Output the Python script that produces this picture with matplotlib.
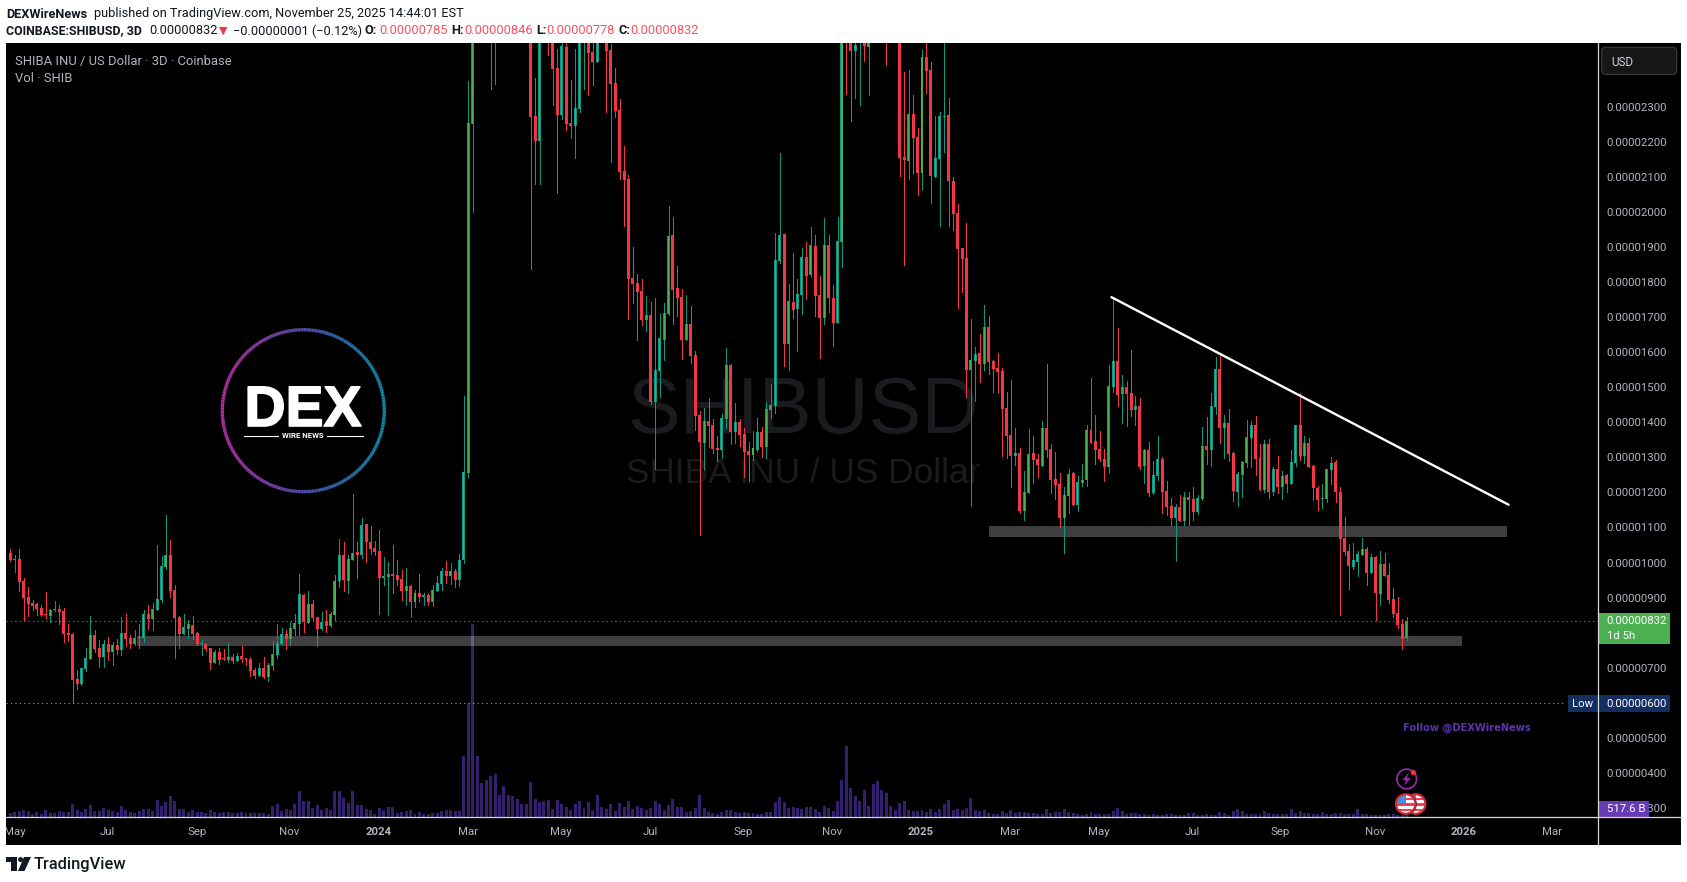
import numpy as np
import matplotlib
matplotlib.use('Agg')
import matplotlib.pyplot as plt
import matplotlib.patheffects as pe
from matplotlib.patches import Circle, Rectangle, FancyBboxPatch, Polygon
from matplotlib.collections import LineCollection
from matplotlib.transforms import Bbox, TransformedBbox

# prices are in units of 0.00000001 USD, candles above the pane top are estimates
highs = [
    1038,1021,1040,955,929,893,884,879,916,867,890,878,869,825,798,693,699,757,847,807,
    779,779,788,773,782,844,853,793,807,825,864,879,884,1050,1019,1136,1064,935,847,853,
    836,847,802,779,770,756,750,756,753,770,739,742,762,727,730,699,713,730,713,775,
    825,813,807,830,853,967,910,919,893,844,859,864,859,964,1067,1059,1021,1195,1059,1127,
    1110,1104,1061,1093,1016,1001,1050,1007,979,984,936,922,967,913,913,936,961,984,1004,999,981,1024,
    1474,2373,3500,4000,4560,4500,3900,3500,3500,3700,3700,3500,3500,3500,3100,2900,2383,2900,2800,2700,2600,
    2464,2520,2520,2376,2464,2600,2700,2700,2500,2600,2600,2560,2479,2410,2322,2188,2105,1899,1822,1808,
    1760,1743,1754,1708,1740,2016,1985,1845,1780,1762,1731,1603,1432,1440,1469,1409,1360,1423,1611,1566,
    1454,1409,1383,1343,1374,1412,1386,1457,1509,1939,2168,1937,1794,1882,1808,1897,1914,1956,1934,1817,
    1982,1934,1791,1985,3000,3000,2700,2520,2650,2650,2600,2800,2800,2800,2750,2680,2720,2700,2399,2404,
    2333,2239,2461,2490,2427,2273,2285,2490,2325,2099,2022,1897,1968,1694,1614,1651,1734,1703,1577,1597,
    1554,1486,1520,1383,1326,1260,1380,1360,1309,1403,1566,1337,1315,
    1255,1215,1267,1258,1247,1281,1392,1526,1421,1375,1324,1564,1758,1669,1535,1518,1606,1475,1469,1324,
    1344,1290,1361,1301,1233,1184,1167,1193,1201,1201,1215,1193,1387,1415,1484,1586,1598,1421,1438,1315,
    1258,1290,1407,1404,1418,1338,1350,1352,1273,1304,1261,1253,1321,1392,1484,1361,1355,1278,1218,1224,
    1267,1301,1293,1215,1130,1053,1056,1033,1070,1044,1024,1019,1033,1027,999,927,902,839,846,
]
lows = [
    1004,973,919,836,847,864,851,848,842,831,862,825,773,776,598,639,651,690,725,745,
    702,702,722,708,739,736,762,756,765,756,773,810,807,864,887,981,902,727,756,796,
    785,782,765,736,747,696,713,710,722,716,713,719,716,708,676,670,676,670,662,693,
    727,767,753,765,793,793,802,827,836,762,807,802,816,836,930,919,913,1007,956,1013,
    1001,1024,1021,853,936,850,913,936,893,879,844,873,890,879,879,876,919,922,942,939,930,933,
    1000,1244,2000,3000,3500,3400,2351,2366,2900,2900,3100,2900,2900,2800,2600,1838,2079,2079,2500,2447,2305,
    2054,2264,2233,2210,2153,2285,2350,2333,2362,2427,2485,2285,2142,2270,2093,1959,1694,1740,1634,1677,
    1660,1452,1266,1471,1577,1705,1680,1703,1580,1634,1568,1377,1078,1263,1329,1312,1289,1297,1383,1337,
    1340,1332,1243,1232,1292,1317,1300,1297,1412,1426,1854,1560,1549,1697,1603,1708,1751,1814,1703,1583,
    1680,1714,1617,1683,1842,2336,2259,2325,2305,2430,2333,2490,2550,2560,2419,2500,2500,2102,1848,2093,
    2111,2048,2065,2339,2025,2099,1959,2170,1959,1948,1725,1771,1471,1161,1460,1514,1549,1537,1486,1483,
    1303,1297,1215,1277,1141,1121,1198,1226,1243,1275,1300,1198,1180,
    1101,1027,1141,1164,1147,1218,1218,1341,1281,1290,1233,1255,1487,1447,1398,1389,1418,1392,1267,1227,
    1190,1195,1235,1141,1136,1107,1004,1118,1107,1107,1121,1138,1178,1281,1275,1424,1341,1298,1290,1176,
    1161,1187,1273,1273,1250,1207,1201,1184,1193,1198,1181,1201,1224,1275,1293,1284,1273,1178,1150,1156,
    1173,1224,1173,850,1021,924,982,962,1021,936,970,836,879,962,885,845,813,753,778,
]
opens = [
    1027,1008,1010,947,902,884,882,870,853,847,865,867,862,799,796,668,653,695,725,793,
    756,730,767,745,765,750,799,785,767,787,785,853,839,864,893,987,1021,922,844,796,
    810,822,799,768,767,756,713,745,727,722,730,719,733,727,725,693,676,699,673,705,
    736,767,796,782,810,825,907,827,882,844,810,833,819,850,947,1021,947,1007,1030,1021,
    1110,1059,1041,1033,956,959,967,964,953,919,933,887,913,902,907,887,919,939,976,961,976,950,
    1007,1256,2251,3300,3700,4300,3700,3000,3300,3100,3500,3300,3100,3300,3000,2800,2273,2203,2700,2600,2520,
    2410,2276,2470,2253,2245,2293,2520,2600,2456,2427,2520,2500,2461,2367,2290,2116,2093,1811,1797,1774,
    1691,1705,1457,1546,1634,1708,1934,1782,1757,1634,1680,1591,1420,1340,1403,1392,1326,1320,1409,1563,
    1372,1400,1366,1317,1306,1320,1372,1329,1434,1446,1859,1937,1623,1743,1723,1762,1871,1820,1902,1762,
    1697,1905,1754,1683,1914,2900,2600,2459,2500,2540,2470,2520,2700,2620,2700,2600,2560,2640,2156,2145,
    2279,2213,2111,2441,2404,2099,2150,2270,2276,2088,1996,1897,1868,1549,1574,1597,1566,1671,1574,1554,
    1546,1440,1363,1303,1312,1146,1198,1312,1295,1275,1383,1323,1238,
    1224,1127,1190,1255,1164,1227,1235,1378,1347,1324,1295,1273,1501,1575,1481,1501,1484,1435,1447,1275,
    1321,1198,1247,1295,1204,1161,1127,1158,1118,1187,1181,1144,1181,1332,1321,1444,1552,1384,1398,1312,
    1201,1250,1284,1355,1392,1298,1207,1338,1201,1267,1215,1250,1224,1284,1392,1304,1341,1275,1213,1181,
    1181,1264,1287,1201,1070,1033,987,1001,1021,1039,970,1016,910,996,964,896,856,825,785,
]
closes = [
    1006,1010,945,900,882,876,867,850,851,864,867,859,796,793,665,653,699,727,793,753,
    730,767,745,765,750,799,782,767,785,785,853,839,867,896,990,1021,919,842,796,816,
    825,796,767,770,753,713,745,722,725,730,719,733,725,722,690,676,699,673,708,739,
    770,796,782,813,827,910,830,882,842,810,830,819,853,947,1021,950,1010,1027,1021,1107,
    1059,1038,1030,956,961,967,961,950,919,933,887,913,902,907,887,922,942,976,961,976,950,1007,
    1257,2253,3300,3700,4300,3700,3000,3300,3100,3500,3300,3100,3300,3000,2800,2270,2203,2700,2600,2520,2407,
    2276,2473,2250,2245,2296,2520,2600,2453,2427,2520,2500,2459,2364,2287,2113,2091,1808,1794,1771,1691,
    1705,1459,1549,1640,1711,1931,1777,1754,1634,1680,1588,1417,1343,1403,1389,1323,1320,1412,1563,1372,
    1400,1363,1315,1306,1326,1372,1329,1437,1449,1862,1934,1623,1745,1720,1765,1871,1817,1905,1760,1697,
    1905,1754,1683,1917,2900,2600,2459,2476,2560,2473,2520,2700,2620,2700,2600,2560,2640,2153,2148,2279,
    2210,2111,2441,2402,2102,2153,2273,2273,2088,1994,1894,1865,1549,1577,1594,1566,1671,1571,1551,1543,
    1437,1360,1303,1312,1146,1200,1309,1292,1277,1383,1320,1235,1220,
    1127,1193,1253,1164,1230,1235,1378,1341,1321,1295,1273,1504,1575,1478,1501,1481,1435,1447,1273,1321,
    1198,1250,1295,1201,1158,1127,1158,1118,1187,1178,1144,1184,1332,1321,1447,1552,1384,1398,1310,1204,
    1253,1287,1358,1392,1295,1207,1338,1201,1267,1215,1247,1224,1287,1392,1304,1341,1273,1213,1178,1184,
    1267,1284,1201,1067,1030,990,1007,1024,1039,970,1016,913,996,962,893,853,822,782,832,
]
# volume in billions of SHIB
volumes = [
    690,920,1035,1150,1035,460,805,460,1150,690,690,1035,805,805,2300,1265,805,1380,2070,1035,
    1035,1495,1265,1035,805,1955,1150,805,690,1035,1380,1380,1035,2990,1955,2645,3680,2760,1380,1380,
    805,1150,920,920,690,1150,920,690,920,920,690,690,920,690,690,690,690,690,575,1955,
    2300,1035,1380,1265,2300,4485,2760,2760,1610,2070,1150,1495,1150,4485,4485,3220,2415,4485,2070,2070,
    1380,1265,575,1610,1265,1725,1725,690,805,1035,1150,575,805,575,460,690,690,1035,1150,1265,
    1035,1035,10580,19665,33290,10580,5865,6325,7130,7475,3795,5405,3795,3565,3105,2300,2300,6095,3105,2645,
    2760,2875,1380,2875,2300,1725,1265,2300,2760,1610,2645,1150,3795,1725,1380,2300,1035,2415,1725,2760,
    1380,1840,1610,1150,1610,2760,2300,1150,2070,3105,1725,1725,805,1035,1553,3795,1553,863,690,518,
    863,1208,1208,863,690,863,690,690,518,518,863,863,2588,3450,2588,1553,1725,1553,1380,1725,
    1725,1380,863,1898,1553,1035,2760,6383,12248,5003,3623,2760,4658,1898,5693,6210,4658,4140,1898,1208,
    2415,2760,1208,1035,1035,1208,863,1380,863,1380,2243,2933,1208,1380,1208,1553,3278,1208,1035,1208,
    690,518,518,1035,690,1208,690,863,863,690,690,518,518,1380,690,863,863,1380,863,690,
    518,345,518,863,518,518,518,518,1035,1553,1035,518,690,690,518,518,345,518,345,345,
    518,518,345,345,345,690,690,345,345,518,345,345,863,690,345,1035,1380,1035,518,518,
    518,518,1035,690,518,518,518,518,1380,690,1035,690,690,518,518,863,518,518,690,690,
    518,518,518,1380,518,518,345,345,345,345,518,518,345,345,518,
]
date_ticks = [1.0, 21.9, 42.0, 62.8, 82.8, 103.0, 123.7, 143.8, 164.8, 184.8, 204.8, 224.8, 244.7, 265.7, 285.5, 306.9, 326.7, 346.7]
date_labels = ['May', 'Jul', 'Sep', 'Nov', '2024', 'Mar', 'May', 'Jul', 'Sep', 'Nov', '2025', 'Mar', 'May', 'Jul', 'Sep', 'Nov', '2026', 'Mar']
# 600 and 800 sit behind the Low and last price labels
price_ticks = [300, 400, 500, 700, 900, 1000, 1100, 1200, 1300, 1400, 1500, 1600, 1700, 1800, 1900, 2000, 2100, 2200, 2300]
last_price = 832
low_price = 600
# trend line and the two zones, candle index and price
trend_x = [247.6, 336.9]
trend_y = [1757, 1165]
zone_x = [[220.0, 336.6], [28.4, 326.4]]
zone_y = [[1073, 1104], [762, 790]]

W, H = 1687, 882
UP, UP_IN, DOWN = '#089981', '#4caf50', '#f23645'
TXT = '#b2b5be'
plt.rcParams['font.family'] = ['Roboto', 'DejaVu Sans']


def frect(x0, y0, x1, y1):
    # pixel box (y down) to figure fractions
    return [x0 / W, 1 - y1 / H, (x1 - x0) / W, (y1 - y0) / H]


fig = plt.figure(figsize=(W / 100, H / 100), dpi=100, facecolor='white')
bg = fig.add_axes(frect(6, 43, 1681, 845), zorder=0, facecolor='black')
bg.set_axis_off()
bg.add_patch(Rectangle((0, 0), 1, 1, transform=bg.transAxes, color='black'))

pane = frect(6, 43, 1598, 817)
ax_vol = fig.add_axes(pane, zorder=1)
ax_vol.patch.set_alpha(0)
ax_vol.set_axis_off()
ax = fig.add_axes(pane, zorder=2)
ax.patch.set_alpha(0)

idx = np.arange(len(closes))
o, h, l, c = np.array(opens), np.array(highs), np.array(lows), np.array(closes)
up = c >= o
xlim = (-0.967, 357.0)
ax.set_xlim(xlim)
ax.set_ylim(274.2, 2482)
ax_vol.set_xlim(xlim)
ax_vol.set_ylim(0, 774 * 172.5)

# watermark sits below everything
ax_vol.text(803 / W, 1 - 433 / H, 'SHIBUSD', transform=fig.transFigure, ha='center', va='baseline',
            fontsize=57, color='#1a1b1f', family='Liberation Sans')
ax_vol.text(803 / W, 1 - 483 / H, 'SHIBA INU / US Dollar', transform=fig.transFigure, ha='center', va='baseline',
            fontsize=25.4, color='#1a1b1f', family='Liberation Sans')
ax_vol.bar(idx, volumes, width=0.67, color='#35206f', linewidth=0)

for zx, zy in zip(zone_x, zone_y):
    ax.add_patch(Rectangle((zx[0], zy[0]), zx[1] - zx[0], zy[1] - zy[0], facecolor='white',
                           alpha=0.25, linewidth=0, zorder=1))

ax.hlines(last_price, xlim[0], xlim[1], colors=UP_IN, linestyles=(0, (1, 3)), linewidth=0.8, zorder=1.5)
ax.hlines(low_price, xlim[0], 349.6, colors='#a0a0a0', linestyles=(0, (1, 3)), linewidth=0.8, zorder=1.5)

wicks = ax.vlines(idx, l, h, colors=[UP if u else DOWN for u in up], linewidth=0.72, zorder=2)
wicks.set_snap(True)
wicks.set_antialiased(False)
bottoms = np.minimum(o, c)
heights = np.maximum(np.abs(c - o), 3)
ax.bar(idx[~up], heights[~up], bottom=bottoms[~up], width=0.67, color=DOWN, linewidth=0, zorder=3)
ax.bar(idx[up], heights[up], bottom=bottoms[up], width=0.67, color=UP, linewidth=0, zorder=3)
ax.bar(idx[up], heights[up], bottom=bottoms[up], width=0.25, color=UP_IN, linewidth=0, zorder=3.1)

ax.plot(trend_x, trend_y, color='white', linewidth=1.7, zorder=4, solid_capstyle='round')

# axes
ax.yaxis.tick_right()
ax.set_yticks(price_ticks, [f'{t / 1e8:.8f}' for t in price_ticks])
ax.set_xticks(date_ticks, date_labels)
ax.tick_params(axis='y', length=0, pad=6, labelsize=8.2, labelcolor=TXT)
ax.tick_params(axis='x', length=0, pad=7, labelsize=8.2, labelcolor=TXT)
for s in ax.spines.values():
    s.set_visible(False)
clip = TransformedBbox(Bbox([[6 / W, 0], [1, 1]]), fig.transFigure)
for lab in ax.get_xticklabels():
    lab.set_clip_box(clip)
    lab.set_clip_on(True)
    if lab.get_text().isdigit():
        lab.set_fontweight('bold')

# everything else is drawn in pixel coordinates on a full size overlay
ov = fig.add_axes([0, 0, 1, 1], zorder=5)
ov.set_xlim(0, W)
ov.set_ylim(H, 0)
ov.set_axis_off()
ov.patch.set_alpha(0)

ov.plot([1598, 1598], [43, 845], color='#d8d8d8', linewidth=0.9)
ov.plot([6, 1681], [817, 817], color='#d8d8d8', linewidth=0.9)


def label(x, y, s, color='black', size=9.2, weight='normal', ha='left', **kw):
    return ov.text(x, y, s, color=color, fontsize=size, fontweight=weight, ha=ha, va='center', **kw)


# header
label(6.4, 14, 'DEXWireNews', '#131722', weight='bold')
label(94, 14, 'published on TradingView.com, November 25, 2025 14:44:01 EST', '#131722')
label(6.4, 31, 'COINBASE:SHIBUSD, 3D', '#131722', weight='bold', size=8.9)
label(149, 31, '0.00000832', '#131722')
label(219, 31, '▼', DOWN, size=8, family='DejaVu Sans')
label(233, 31, '−0.00000001 (−0.12%)', '#131722')
red = '#f7525f'
for xk, xv, k, v in [(365, 379, 'O:', '0.00000785'), (451, 464, 'H:', '0.00000846'),
                     (536, 546, 'L:', '0.00000778'), (619, 630, 'C:', '0.00000832')]:
    label(xk, 31, k, '#131722', weight='bold')
    label(xv, 31, v, red)
label(15, 61.5, 'SHIBA INU / US Dollar · 3D · Coinbase', TXT, size=9.4)
label(15, 78.5, 'Vol · SHIB', TXT, size=9.4)

# price labels
ov.add_patch(FancyBboxPatch((1601.7, 47.3), 75, 27, boxstyle='round,pad=0,rounding_size=4',
                            facecolor='#161616', edgecolor='#3a3d45', linewidth=0.8))
label(1611.7, 62, 'USD', '#d1d4dc', size=8.4)
ov.add_patch(Rectangle((1598, 613), 72, 31, facecolor='#4caf50', linewidth=0))
label(1606.7, 621.5, '0.00000832', 'white', size=8.2)
label(1606.7, 636, '1d 5h', 'white', size=8.2)
ov.add_patch(Rectangle((1568, 695), 102, 17, facecolor='#142e61', linewidth=0))
label(1572, 704, 'Low', 'white', size=8.2)
label(1606.7, 704, '0.00000600', 'white', size=8.2)
ov.add_patch(Rectangle((1598, 801), 51, 16, facecolor='#673ab7', linewidth=0))
label(1607, 809.5, '517.6 B', 'white', size=8.2)

label(1403, 728, 'Follow @DEXWireNews', '#5a34b0', size=7.15, weight='bold', family='DejaVu Sans')

# DEX logo ring, purple on the left running to teal on the right
ang = np.radians(np.arange(0, 361, 2))
ring_x = 303.3 + 81 * np.cos(ang)
ring_y = 410.7 + 81 * np.sin(ang)
pts = np.column_stack([ring_x, ring_y]).reshape(-1, 1, 2)
segs = np.concatenate([pts[:-1], pts[1:]], axis=1)
left, mid, right = np.array([0.66, 0.18, 0.60]), np.array([0.27, 0.30, 0.65]), np.array([0.05, 0.52, 0.62])
frac = (ring_x[:-1] - 222) / 162
ring_cols = [left + (mid - left) * f / 0.55 if f < 0.55 else mid + (right - mid) * (f - 0.55) / 0.45 for f in frac]
ov.add_collection(LineCollection(segs, colors=ring_cols, linewidth=2.4))
dex = ov.text(303, 426, 'DEX', color='white', fontsize=41, fontweight='bold', ha='center', va='baseline',
              family='Liberation Sans')
dex.set_path_effects([pe.withStroke(linewidth=1.2, foreground='white')])
ov.add_patch(Rectangle((243, 400), 13, 8, color='black'))
ov.add_patch(Rectangle((303, 401), 11, 7, color='black'))
ov.text(303, 436, 'WIRE NEWS', color='white', fontsize=5.6, fontweight='bold', ha='center', va='center')
ov.plot([244.3, 278.3], [435.5, 435.5], color='white', linewidth=0.8)
ov.plot([327.3, 362.7], [435.5, 435.5], color='white', linewidth=0.8)

# event icons
ov.add_patch(Circle((1406.7, 779), 9.8, facecolor='black', edgecolor='#9c27b0', linewidth=1.2))
ov.add_patch(Polygon([(1409, 772.5), (1402.5, 780), (1406, 780), (1404, 785.5), (1411, 778), (1407, 778)],
                     facecolor='#9c27b0', linewidth=0))
ov.add_patch(Circle((1413.3, 772.5), 2.6, facecolor=DOWN, linewidth=0))
for cx in (1415.7, 1405.7):
    ov.add_patch(Circle((cx, 804), 11, facecolor='black', linewidth=0))
    disc = Circle((cx, 804), 9, facecolor='white', edgecolor='none')
    ov.add_patch(disc)
    for sy in (797.5, 803, 808.5):
        ov.add_patch(Rectangle((cx - 10, sy), 20, 2.6, facecolor='#f04050', linewidth=0, clip_path=disc))
    ov.add_patch(Rectangle((cx - 10, 794), 10, 9, facecolor='#3d8fe0', linewidth=0, clip_path=disc))
    ov.add_patch(Circle((cx, 804), 9.8, facecolor='none', edgecolor='#d8263a', linewidth=1.5))

# TradingView logo
ov.add_patch(Polygon([(6, 857), (17.5, 857), (17.5, 871), (11, 871), (11, 862), (6, 862)], facecolor='#131722', linewidth=0))
ov.add_patch(Circle((20.6, 859.6), 2.5, facecolor='#131722', linewidth=0))
ov.add_patch(Polygon([(24, 857), (31, 857), (24.5, 871), (18, 871)], facecolor='#131722', linewidth=0))
label(34, 864, 'TradingView', '#131722', size=11.9, weight='medium')

fig.savefig('out.png', dpi=100, facecolor='white')
